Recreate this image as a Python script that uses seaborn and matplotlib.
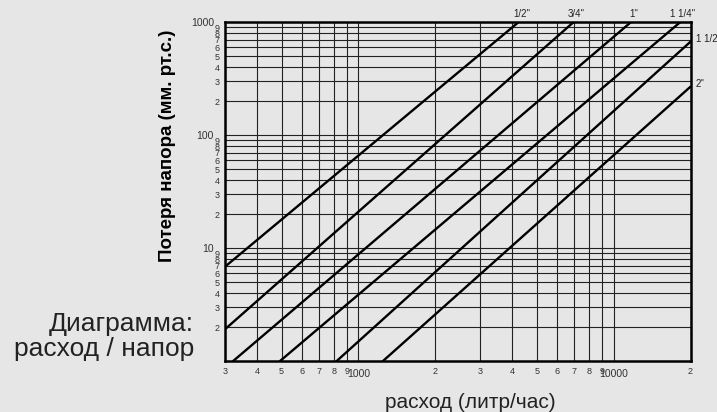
import numpy as np
import pandas as pd
import matplotlib
matplotlib.use("Agg")
import matplotlib.pyplot as plt
import seaborn as sns

# Pipe sizes and where each straight line enters / leaves the chart (flow l/h, head mm)
sizes = ['1/2"', '3/4"', '1"', '1 1/4"', '1 1/2"', '2"']
flow_start = [300, 300, 323, 493, 822, 1248]
head_start = [6.84, 1.91, 1.0, 1.0, 1.0, 1.0]
flow_end = [4231, 6951, 11665, 18200, 20000, 20000]
head_end = [1000, 1000, 1000, 1000, 673, 269]

# Tick positions and labels
x_major = [1000, 10000]
x_major_labels = ['1000', '10000']
x_minor = [300, 400, 500, 600, 700, 800, 900,
           2000, 3000, 4000, 5000, 6000, 7000, 8000, 9000, 20000]
x_minor_labels = ['3', '4', '5', '6', '7', '8', '9',
                  '2', '3', '4', '5', '6', '7', '8', '9', '2']
y_major = [10, 100, 1000]
y_major_labels = ['10', '100', '1000']
y_minor = [2, 3, 4, 5, 6, 7, 8, 9,
           20, 30, 40, 50, 60, 70, 80, 90,
           200, 300, 400, 500, 600, 700, 800, 900]
y_minor_labels = ['2', '3', '4', '5', '6', '7', '8', '9'] * 3

bg = '#e6e6e6'
sns.set_theme(style="ticks")
plt.rcParams['font.family'] = ['Liberation Sans', 'DejaVu Sans']

# long table for seaborn: two points per line
df = pd.DataFrame({
    'size': sizes + sizes,
    'flow': flow_start + flow_end,
    'head': head_start + head_end,
})

fig = plt.figure(figsize=(7.17, 4.12), dpi=100, facecolor=bg)
ax = fig.add_axes([225 / 717, 1 - 361 / 412, 465.5 / 717, 338.7 / 412])
ax.set_facecolor(bg)

sns.lineplot(data=df, x='flow', y='head', hue='size', hue_order=sizes,
             palette=['black'] * len(sizes), estimator=None, sort=False,
             linewidth=1.7, legend=False, ax=ax)

ax.set_xscale('log')
ax.set_yscale('log')
ax.set_xlim(300, 20000)
ax.set_ylim(1, 1000)

ax.set_xticks(x_major, labels=x_major_labels)
ax.set_xticks(x_minor, labels=x_minor_labels, minor=True)
ax.set_yticks(y_major, labels=y_major_labels)
ax.set_yticks(y_minor, labels=y_minor_labels, minor=True)

ax.tick_params(which='both', length=0, colors='#333333')
ax.tick_params(axis='x', which='minor', labelsize=6.5, pad=4)
ax.tick_params(axis='x', which='major', labelsize=7.5, pad=6)
ax.tick_params(axis='y', which='minor', labelsize=6.5, pad=4)
ax.tick_params(axis='y', which='major', labelsize=7.5, pad=8)

ax.grid(which='both', color='#222222', linewidth=0.8)
for s in ax.spines.values():
    s.set_linewidth(1.8)
    s.set_color('black')
ax.set_xlabel('')
ax.set_ylabel('')

# size labels at the end of each line
for name, fx, hy in zip(sizes, flow_end, head_end):
    if hy >= 1000:
        ax.annotate(name, (fx, hy), xytext=(3, 3), textcoords='offset pixels',
                    ha='center', va='bottom', fontsize=7, color='#222222',
                    annotation_clip=False)
    else:
        ax.annotate(name, (fx, hy), xytext=(5, 3), textcoords='offset pixels',
                    ha='left', va='center', fontsize=7, color='#222222',
                    annotation_clip=False)

fig.text(168 / 717, 1 - 146 / 412, 'Потеря напора (мм. рт.с.)', rotation=90,
         ha='center', va='center', fontsize=13.5, fontweight='bold', color='black')
fig.text(470 / 717, 1 - 402 / 412, 'расход (литр/час)', ha='center', va='center',
         fontsize=15, color='#222222')
fig.text(194 / 717, 1 - 324 / 412, 'Диаграмма:', ha='right', va='center',
         fontsize=19, color='#222222')
fig.text(194 / 717, 1 - 349 / 412, 'расход / напор', ha='right', va='center',
         fontsize=19, color='#222222')

fig.savefig('out.png', dpi=100, facecolor=bg)
